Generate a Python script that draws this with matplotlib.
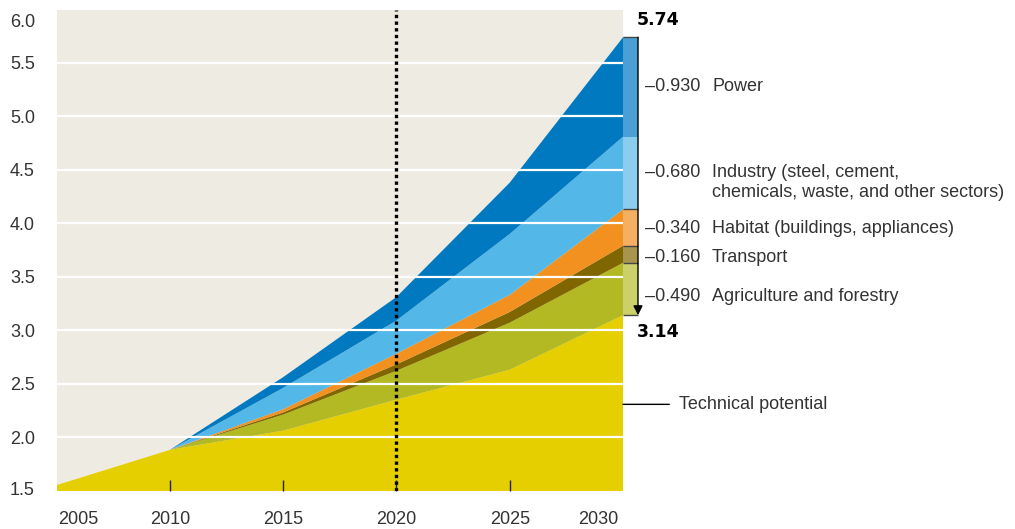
import numpy as np
import matplotlib
matplotlib.use("Agg")
import matplotlib.pyplot as plt
from matplotlib import transforms

plt.rcParams['font.family'] = ['Liberation Sans', 'DejaVu Sans']

# data (stacked on top of the technical potential)
years = [2005, 2010, 2015, 2020, 2025, 2030]
technical = [1.55, 1.88, 2.06, 2.35, 2.63, 3.14]
agriculture = [0.0, 0.0, 0.15, 0.27, 0.44, 0.49]
transport = [0.0, 0.0, 0.02, 0.06, 0.10, 0.16]
habitat = [0.0, 0.0, 0.03, 0.10, 0.16, 0.34]
industry = [0.0, 0.0, 0.20, 0.31, 0.57, 0.68]
power = [0.0, 0.0, 0.10, 0.22, 0.48, 0.93]

sectors = ['Agriculture and forestry', 'Transport', 'Habitat (buildings, appliances)',
           'Industry (steel, cement,\nchemicals, waste, and other sectors)', 'Power']
reductions = [0.490, 0.160, 0.340, 0.680, 0.930]
start_val = 3.14
end_val = 5.74

area_colors = ['#E6CF00', '#B3B922', '#806600', '#F29020', '#53B7E8', '#0079C1']
bar_colors = ['#CBD06A', '#A7954E', '#F5AF62', '#8ACDEF', '#4B9FD5']
label_y = [3.32, 3.69, 3.96, 4.48, 5.29]

fig = plt.figure(figsize=(10.15, 5.29), dpi=100)
ax = fig.add_axes([56.5 / 1015, 38.5 / 529, 566.5 / 1015, 481 / 529])
ax.set_facecolor('#EEEBE2')

ax.stackplot(years, technical, agriculture, transport, habitat, industry, power,
             colors=area_colors, linewidth=0, zorder=1)

ax.set_xlim(2005, 2030)
ax.set_ylim(1.5, 6.0)

yt = np.arange(1.5, 6.01, 0.5)
ax.set_yticks(yt)
ax.set_yticklabels(['%.1f' % v for v in yt])
ax.set_axisbelow(False)
ax.yaxis.grid(True, color='white', lw=1.6, zorder=2)
gl = ax.yaxis.get_gridlines()
gl[0].set_visible(False)
gl[-1].set_visible(False)

ax.set_xticks(years)
ax.set_xticklabels([str(y) for y in years])
ax.tick_params(axis='x', direction='in', length=8, width=1, color='#222222',
               pad=15, labelsize=13, labelcolor='#333333')
ax.tick_params(axis='y', length=0, pad=15.5, labelsize=13, labelcolor='#333333')
xt = ax.xaxis.get_major_ticks()
xt[0].tick1line.set_visible(False)
xt[-1].tick1line.set_visible(False)
for t in ax.get_xticklines():
    t.set_zorder(4)

# nudge the edge labels like in the original
lab = ax.get_xticklabels()
lab[0].set_transform(lab[0].get_transform() + transforms.ScaledTranslation(21.5 / 100, 0, fig.dpi_scale_trans))
lab[-1].set_transform(lab[-1].get_transform() + transforms.ScaledTranslation(-25 / 100, 0, fig.dpi_scale_trans))
ylab = ax.get_yticklabels()
ylab[-1].set_transform(ylab[-1].get_transform() + transforms.ScaledTranslation(0, -10.5 / 100, fig.dpi_scale_trans))
ylab[0].set_transform(ylab[0].get_transform() + transforms.ScaledTranslation(0, 2 / 100, fig.dpi_scale_trans))

for s in ax.spines.values():
    s.set_visible(False)

ax.axvline(2020, color='black', lw=2.4, ls=(0, (1, 1)), zorder=5)

# bar of reductions on the right
bw = 15 / 22.66
bottom = start_val
for val, col, name, ly in zip(reductions, bar_colors, sectors, label_y):
    ax.bar(2030, val, width=bw, bottom=bottom, align='edge', color=col,
           linewidth=0, clip_on=False, zorder=3)
    ax.annotate('\u2013%.3f' % val, xy=(1, ly), xycoords=('axes fraction', 'data'),
                xytext=(22, 7.5), textcoords='offset pixels', fontsize=13,
                color='#333333', va='top', ha='left', annotation_clip=False)
    ax.annotate(name, xy=(1, ly), xycoords=('axes fraction', 'data'),
                xytext=(89, 7.5), textcoords='offset pixels', fontsize=13,
                color='#333333', va='top', ha='left', linespacing=1.2,
                annotation_clip=False)
    bottom += val

# thin dark separators in the bar (none between industry and power)
cuts = np.cumsum([start_val] + reductions)
sep = [c for i, c in enumerate(cuts) if i != 4]
ax.hlines(sep, 2030, 2030 + bw, color='#444444', lw=1, clip_on=False, zorder=4)

ax.annotate('', xy=(2030 + bw, start_val), xytext=(2030 + bw, end_val),
            arrowprops=dict(arrowstyle='-|>', color='black', lw=1, mutation_scale=14,
                            shrinkA=0, shrinkB=0),
            annotation_clip=False, zorder=6)

ax.annotate('%.2f' % end_val, xy=(1, end_val), xycoords=('axes fraction', 'data'),
            xytext=(14, 17), textcoords='offset pixels', fontsize=12.5,
            family='DejaVu Sans', fontweight='bold', va='center', ha='left',
            annotation_clip=False)
ax.annotate('%.2f' % start_val, xy=(1, start_val), xycoords=('axes fraction', 'data'),
            xytext=(14, -17), textcoords='offset pixels', fontsize=12.5,
            family='DejaVu Sans', fontweight='bold', va='center', ha='left',
            annotation_clip=False)

# technical potential leader
ax.annotate('Technical potential', xy=(1, 2.306), xycoords=('axes fraction', 'data'),
            xytext=(56, 0), textcoords='offset pixels', fontsize=13, color='#333333',
            va='center', ha='left', annotation_clip=False,
            arrowprops=dict(arrowstyle='-', color='black', lw=1, shrinkA=5, shrinkB=0,
                            relpos=(0, 0.5)))

fig.savefig('out.png', dpi=100)
